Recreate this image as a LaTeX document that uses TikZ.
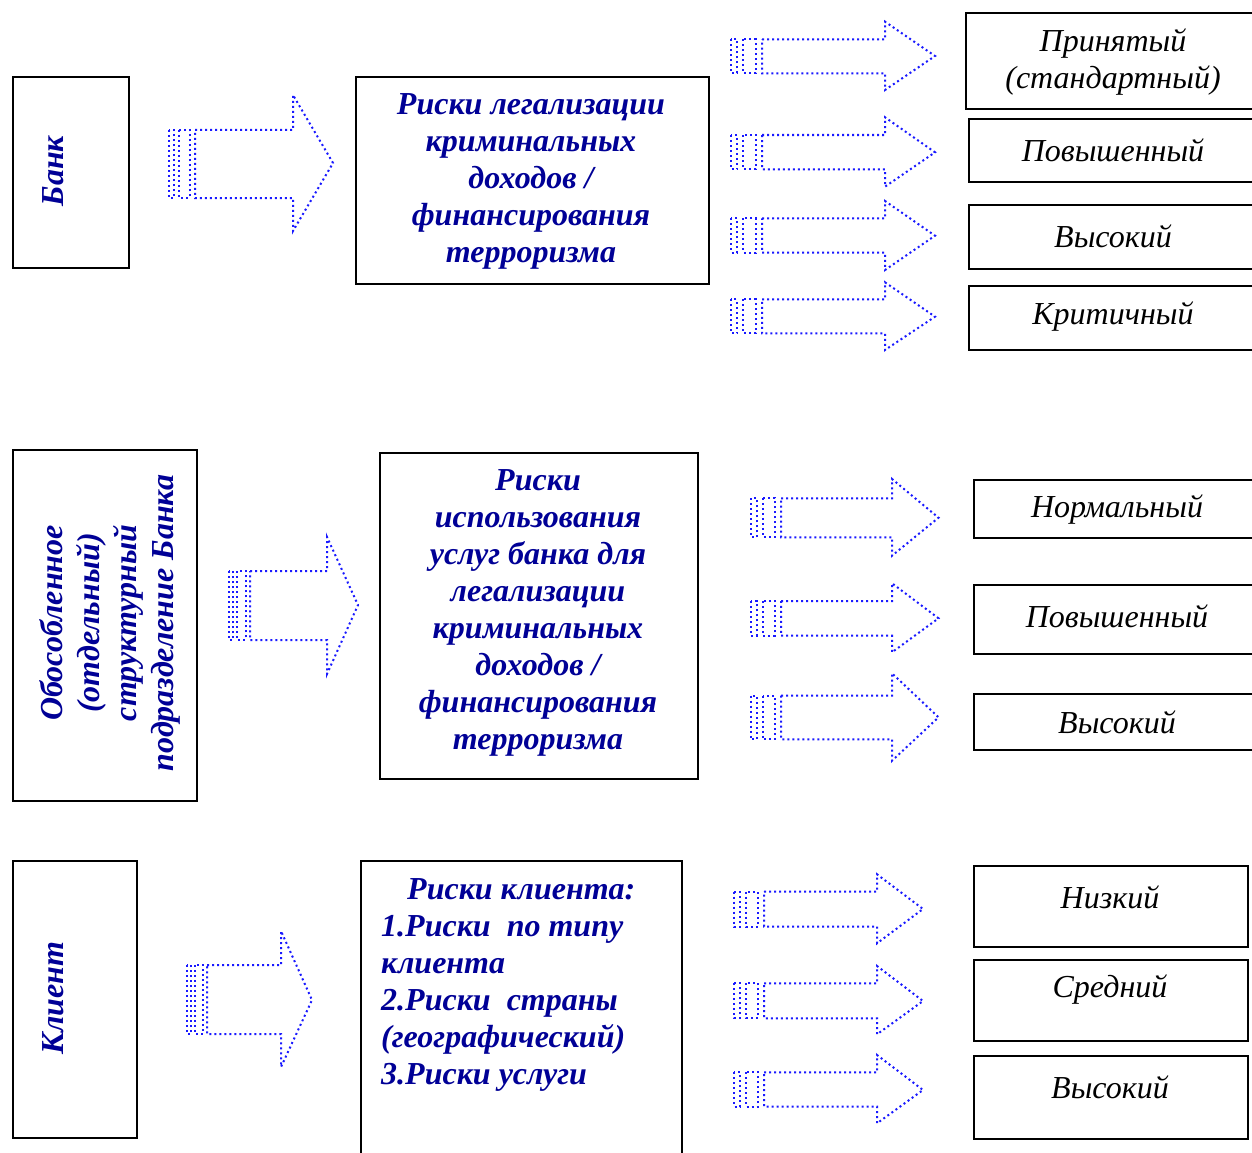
\documentclass[tikz,border=0pt]{standalone}
\usepackage{fontspec}
\setmainfont{Liberation Serif}
\definecolor{inkblue}{RGB}{0,0,150}
\definecolor{arrowblue}{RGB}{25,25,255}
\tikzset{
  box/.style={draw=black, line width=1.6pt, inner sep=0pt},
  blockarrow/.style={draw=arrowblue, line width=2pt, dash pattern=on 2pt off 3pt},
  headtext/.style={text=inkblue, font=\fontsize{32}{37}\selectfont\bfseries\itshape, align=center, inner sep=0pt},
  leveltext/.style={text=black, font=\fontsize{32}{37}\selectfont\itshape, align=center, inner sep=0pt},
}
% rectangle node from its corners: name, x1, y1, x2, y2
\newcommand\rectnode[5]{%
  \pgfmathsetmacro\rectw{#4-#2}%
  \pgfmathsetmacro\recth{#5-#3}%
  \node[box, anchor=north west, minimum width=\rectw pt, minimum height=\recth pt] (#1) at (#2,#3) {};%
}
% striped block arrow: tail x, body x, head-base x, tip x,
% body top, body bottom, head top, head bottom, tip y
\newcommand\stripearrow[9]{%
  \pgfmathsetmacro\arrA{#1+0.2*(#2-#1)}%
  \pgfmathsetmacro\arrB{#1+0.4*(#2-#1)}%
  \pgfmathsetmacro\arrC{#1+0.8*(#2-#1)}%
  \draw[blockarrow] (#1,#5) rectangle (\arrA,#6);
  \draw[blockarrow] (\arrB,#5) rectangle (\arrC,#6);
  \draw[blockarrow] (#2,#5) -- (#3,#5) -- (#3,#7) -- (#4,#9) -- (#3,#8) -- (#3,#6) -- (#2,#6) -- cycle;
}
\begin{document}
\begin{tikzpicture}[x=1pt, y=-1pt]
\useasboundingbox (0,0) rectangle (1252,1153);
\clip (0,0) rectangle (1252,1153);

% ---------- Bank ----------
\rectnode{bank}{12}{76}{128}{267}
\node[headtext, rotate=90] (bank-t) at (53,171) {Банк};
\stripearrow{169}{195}{293}{333}{130}{198}{95}{231}{163}
\rectnode{riskA}{355}{76}{708}{283}
\node[headtext] (riskA-t) at (531,181) {Риски легализации\\криминальных\\доходов /\\финансирования\\терроризма};

\stripearrow{731}{762}{885}{935}{39.3}{73.3}{21.7}{90}{56}
\stripearrow{731}{762}{885}{935}{135}{169.3}{117.3}{186.7}{152.3}
\stripearrow{731}{762}{885}{935}{218.3}{252.7}{201}{270}{235.7}
\stripearrow{731}{762}{885}{935}{299.3}{333.3}{282.3}{350}{316.7}

\rectnode{lvA1}{965}{12}{1280}{108}
\rectnode{lvA2}{968}{118}{1280}{181}
\rectnode{lvA3}{968}{204}{1280}{268}
\rectnode{lvA4}{968}{285}{1280}{349}
\node[leveltext] (lvA1-t) at (1113,62) {Принятый\\(стандартный)};
\node[leveltext] (lvA2-t) at (1113,150) {Повышенный};
\node[leveltext] (lvA3-t) at (1113,236) {Высокий};
\node[leveltext] (lvA4-t) at (1113,317) {Критичный};

% ---------- Separate structural unit ----------
\rectnode{unit}{12}{449}{196}{800}
\node[headtext, rotate=90] (unit-t) at (110,623) {Обособленное\\(отдельный)\\структурный\\подразделение Банка};
\stripearrow{229}{250}{327}{358}{571}{640}{537}{674}{605}
\rectnode{riskB}{379}{452}{697}{778}
\node[headtext] (riskB-t) at (538,613) {Риски\\использования\\услуг банка для\\легализации\\криминальных\\доходов /\\финансирования\\терроризма};

\stripearrow{751}{781}{892}{938.5}{498.3}{537.3}{479}{555.7}{517.7}
\stripearrow{751}{781}{892}{938.5}{601}{635.7}{583.3}{652.3}{618.3}
\stripearrow{751}{781}{892}{938.5}{695.7}{739.3}{673.3}{760.7}{717.3}

\rectnode{lvB1}{973}{479}{1280}{537}
\rectnode{lvB2}{973}{584}{1280}{653}
\rectnode{lvB3}{973}{693}{1280}{749}
\node[leveltext] (lvB1-t) at (1117,510) {Нормальный};
\node[leveltext] (lvB2-t) at (1117,616) {Повышенный};
\node[leveltext] (lvB3-t) at (1117,722) {Высокий};

% ---------- Client ----------
\rectnode{client}{12}{860}{136}{1137}
\node[headtext, rotate=90] (client-t) at (53,998) {Клиент};
\stripearrow{187}{207}{281}{312}{965}{1034}{931}{1067}{1000}
\rectnode{riskC}{360}{860}{681}{1175}
\node[headtext, align=left, anchor=west] (riskC-t) at (381,985)
  {\hspace{26pt}Риски клиента:\\1.Риски \ по типу\\клиента\\2.Риски \ страны\\(географический)\\3.Риски услуги};

\stripearrow{734}{764}{877}{923}{891.7}{926.7}{874.3}{943.3}{909}
\stripearrow{734}{764}{877}{923}{983.3}{1018.3}{966}{1034.3}{1001}
\stripearrow{734}{764}{877}{923}{1072.3}{1106.7}{1055}{1123.3}{1090}

\rectnode{lvC1}{973}{865}{1247}{946}
\rectnode{lvC2}{973}{959}{1247}{1040}
\rectnode{lvC3}{973}{1055}{1247}{1138}
\node[leveltext] (lvC1-t) at (1110,897) {Низкий};
\node[leveltext] (lvC2-t) at (1110,990) {Средний};
\node[leveltext] (lvC3-t) at (1110,1087) {Высокий};
\end{tikzpicture}
\end{document}
